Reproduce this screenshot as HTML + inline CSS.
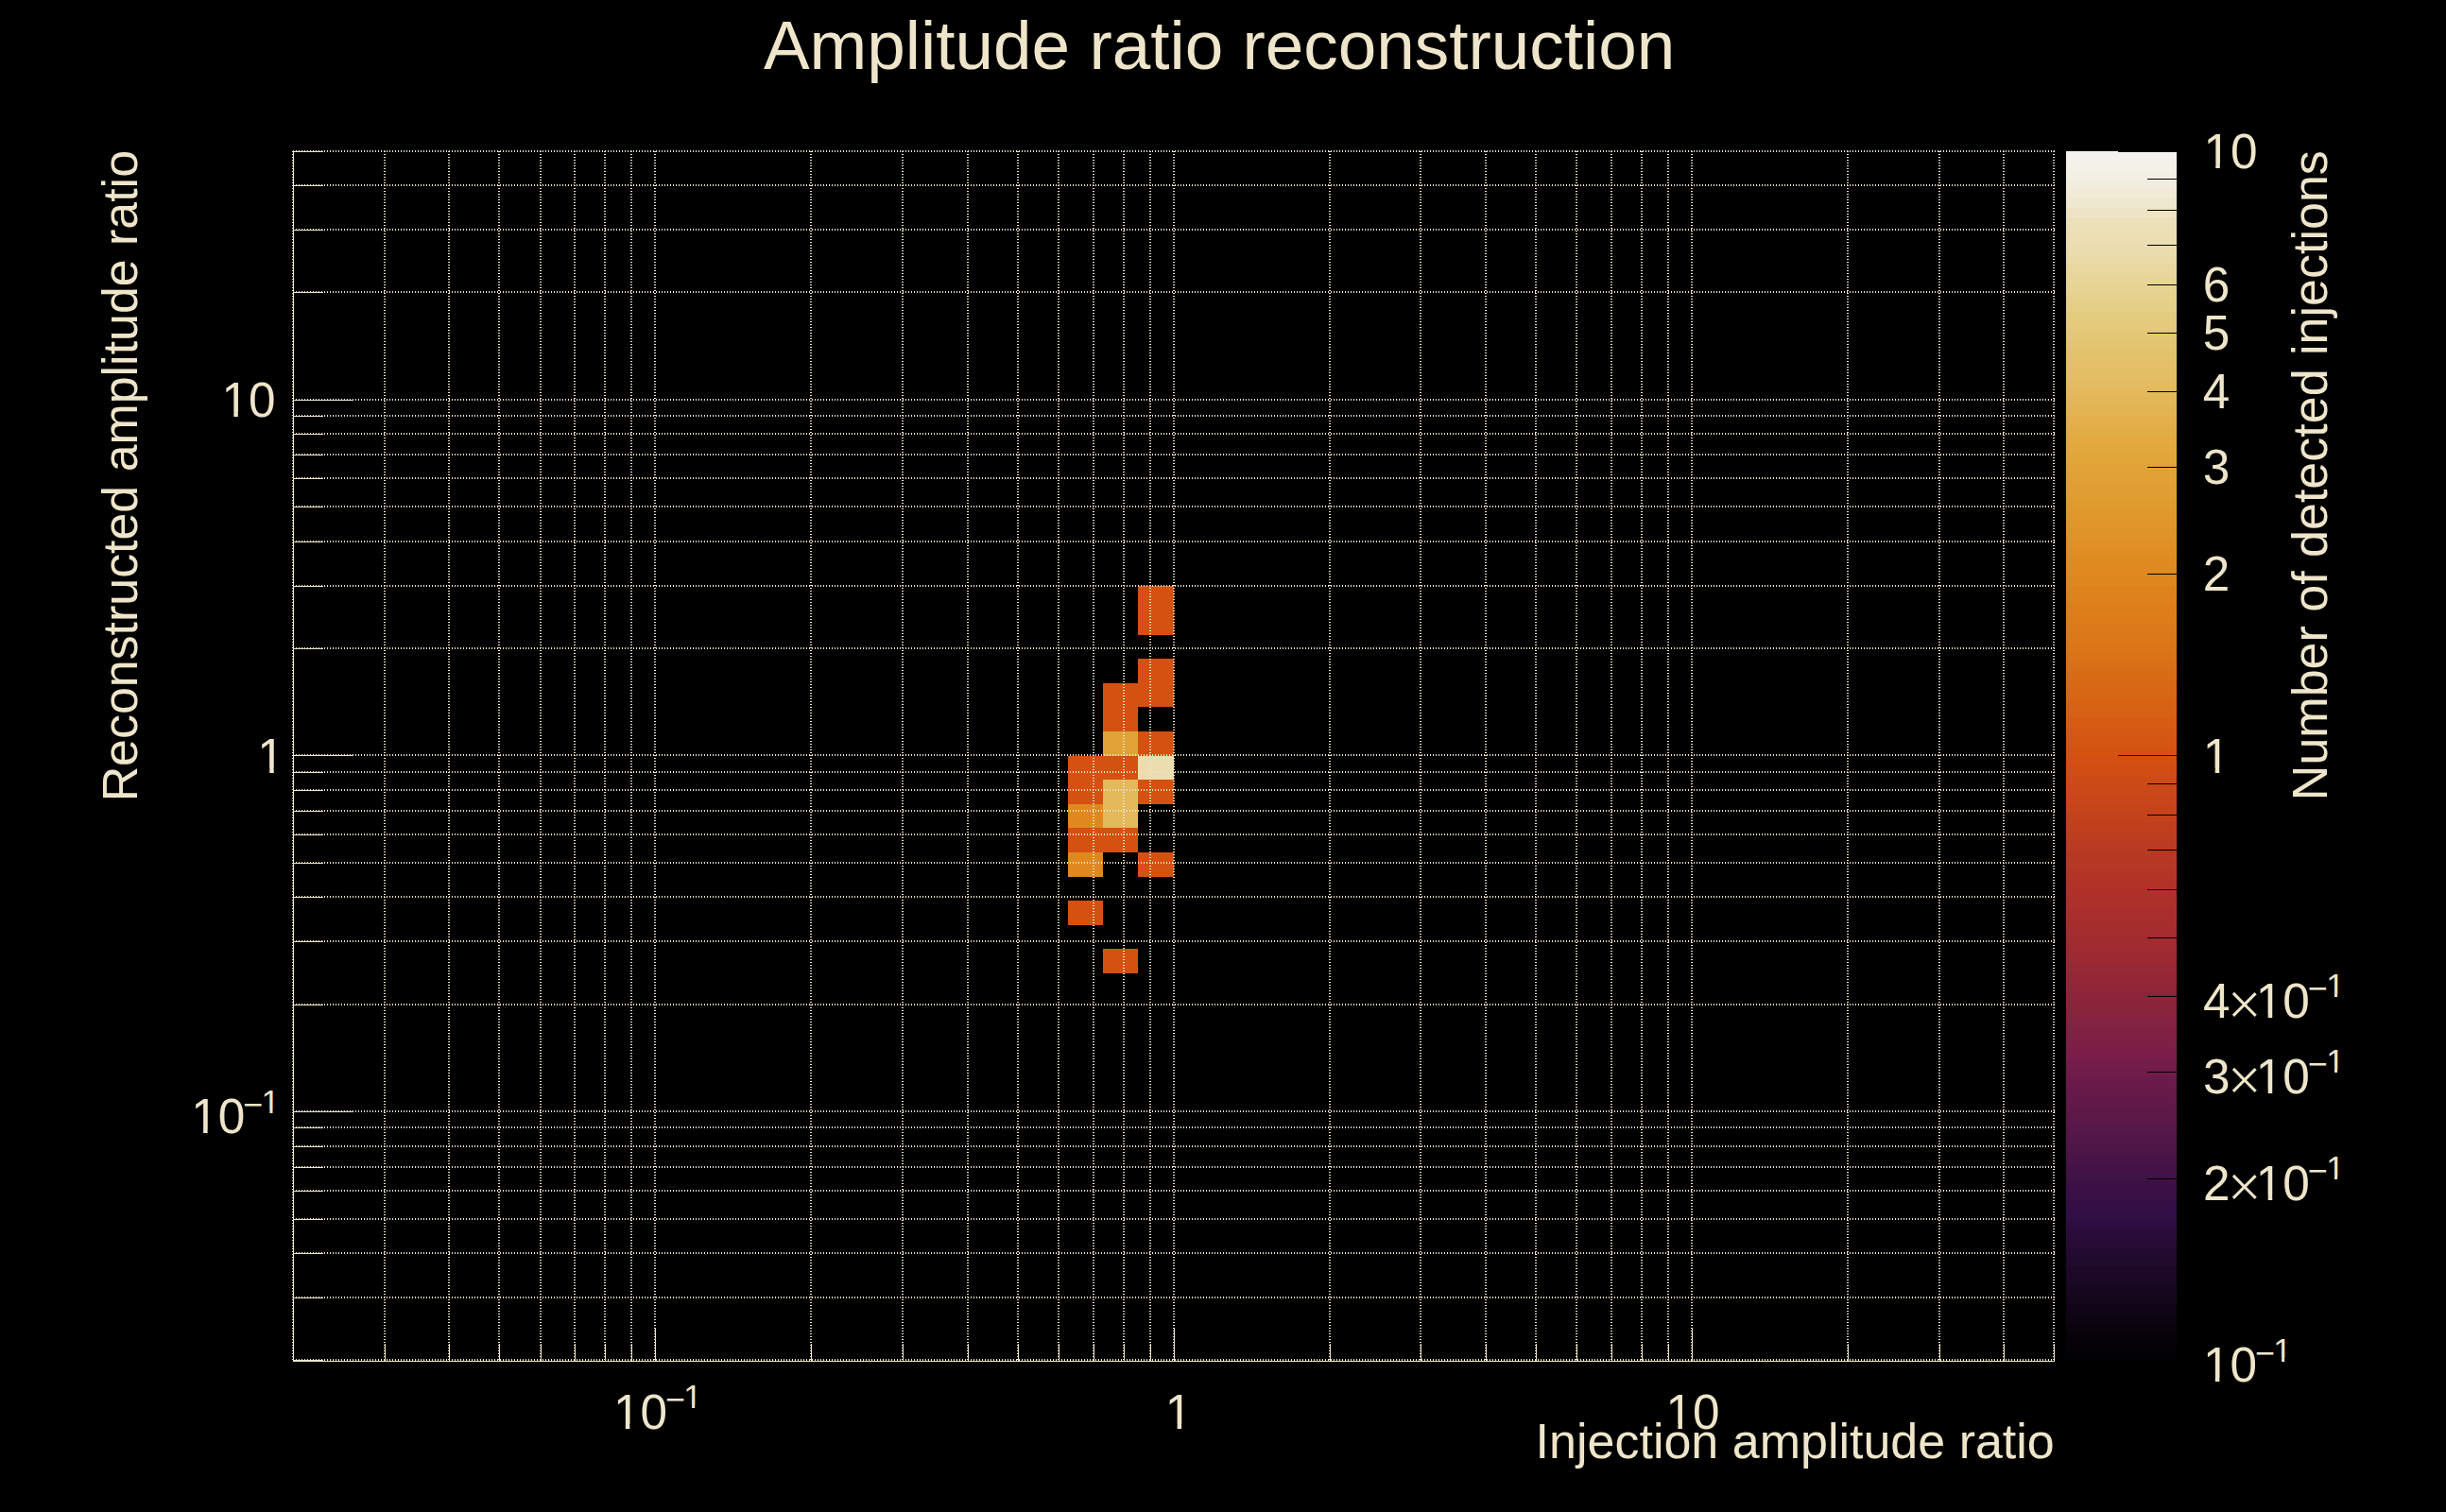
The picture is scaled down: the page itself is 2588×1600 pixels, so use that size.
<!DOCTYPE html>
<html lang="en"><head><meta charset="utf-8"><title>Amplitude ratio reconstruction</title>
<style>html,body{margin:0;padding:0;background:#000;}body{width:2588px;height:1600px;overflow:hidden;}svg{display:block;}text{font-family:'Liberation Sans', sans-serif;fill:#eee5ca;}</style>
</head><body>
<svg width="2588" height="1600" viewBox="0 0 2588 1600">
<rect x="0" y="0" width="2588" height="1600" fill="#000"/>
<g shape-rendering="crispEdges">
<rect x="1204" y="620" width="38" height="26" fill="#d45111"/>
<rect x="1204" y="646" width="38" height="26" fill="#d45111"/>
<rect x="1204" y="697" width="38" height="26" fill="#d45111"/>
<rect x="1204" y="723" width="38" height="25" fill="#d45111"/>
<rect x="1204" y="774" width="38" height="26" fill="#d45111"/>
<rect x="1204" y="800" width="38" height="25" fill="#ebddb0"/>
<rect x="1204" y="825" width="38" height="26" fill="#d45111"/>
<rect x="1204" y="902" width="38" height="26" fill="#d45111"/>
<rect x="1167" y="723" width="37" height="25" fill="#d45111"/>
<rect x="1167" y="748" width="37" height="26" fill="#d45111"/>
<rect x="1167" y="774" width="37" height="26" fill="#e1a338"/>
<rect x="1167" y="800" width="37" height="25" fill="#d45111"/>
<rect x="1167" y="825" width="37" height="26" fill="#e3b95c"/>
<rect x="1167" y="851" width="37" height="25" fill="#e3b95c"/>
<rect x="1167" y="876" width="37" height="26" fill="#d45111"/>
<rect x="1167" y="1004" width="37" height="26" fill="#d45111"/>
<rect x="1130" y="800" width="37" height="25" fill="#d45111"/>
<rect x="1130" y="825" width="37" height="26" fill="#d45111"/>
<rect x="1130" y="851" width="37" height="25" fill="#df881f"/>
<rect x="1130" y="876" width="37" height="26" fill="#d45111"/>
<rect x="1130" y="902" width="37" height="26" fill="#df881f"/>
<rect x="1130" y="953" width="37" height="26" fill="#d45111"/>
</g>
<g shape-rendering="crispEdges">
<rect x="2186" y="160" width="117" height="10" fill="#f4f2ef"/>
<rect x="2186" y="170" width="117" height="10" fill="#f3f1ea"/>
<rect x="2186" y="180" width="117" height="10" fill="#f2efe4"/>
<rect x="2186" y="190" width="117" height="10" fill="#f1eddf"/>
<rect x="2186" y="200" width="117" height="10" fill="#f0ead7"/>
<rect x="2186" y="210" width="117" height="10" fill="#efe8d0"/>
<rect x="2186" y="220" width="117" height="10" fill="#eee4c5"/>
<rect x="2186" y="230" width="117" height="10" fill="#ece0b9"/>
<rect x="2186" y="240" width="117" height="10" fill="#ecdfb5"/>
<rect x="2186" y="250" width="117" height="10" fill="#ebdeb2"/>
<rect x="2186" y="260" width="117" height="10" fill="#eadcad"/>
<rect x="2186" y="270" width="117" height="10" fill="#eadaa6"/>
<rect x="2186" y="280" width="117" height="10" fill="#e8d89f"/>
<rect x="2186" y="290" width="117" height="10" fill="#e8d698"/>
<rect x="2186" y="300" width="117" height="10" fill="#e7d492"/>
<rect x="2186" y="310" width="117" height="10" fill="#e6d18c"/>
<rect x="2186" y="320" width="117" height="10" fill="#e5cf85"/>
<rect x="2186" y="330" width="117" height="10" fill="#e4cc7f"/>
<rect x="2186" y="340" width="117" height="10" fill="#e4ca7a"/>
<rect x="2186" y="350" width="117" height="10" fill="#e4c775"/>
<rect x="2186" y="360" width="117" height="10" fill="#e3c571"/>
<rect x="2186" y="370" width="117" height="10" fill="#e3c26c"/>
<rect x="2186" y="380" width="117" height="10" fill="#e3c068"/>
<rect x="2186" y="390" width="117" height="10" fill="#e3be64"/>
<rect x="2186" y="400" width="117" height="10" fill="#e3bb60"/>
<rect x="2186" y="410" width="117" height="10" fill="#e3b95c"/>
<rect x="2186" y="420" width="117" height="10" fill="#e3b658"/>
<rect x="2186" y="430" width="117" height="10" fill="#e3b452"/>
<rect x="2186" y="440" width="117" height="10" fill="#e3b04c"/>
<rect x="2186" y="450" width="117" height="10" fill="#e2ad46"/>
<rect x="2186" y="460" width="117" height="10" fill="#e2aa40"/>
<rect x="2186" y="470" width="117" height="10" fill="#e2a83e"/>
<rect x="2186" y="480" width="117" height="10" fill="#e1a53a"/>
<rect x="2186" y="490" width="117" height="10" fill="#e1a338"/>
<rect x="2186" y="500" width="117" height="10" fill="#e1a135"/>
<rect x="2186" y="510" width="117" height="10" fill="#e19f33"/>
<rect x="2186" y="520" width="117" height="10" fill="#e09d31"/>
<rect x="2186" y="530" width="117" height="10" fill="#e09b2f"/>
<rect x="2186" y="540" width="117" height="10" fill="#e0982d"/>
<rect x="2186" y="550" width="117" height="10" fill="#e0962a"/>
<rect x="2186" y="560" width="117" height="10" fill="#e09328"/>
<rect x="2186" y="570" width="117" height="10" fill="#e09026"/>
<rect x="2186" y="580" width="117" height="10" fill="#df8e23"/>
<rect x="2186" y="590" width="117" height="10" fill="#df8b21"/>
<rect x="2186" y="600" width="117" height="10" fill="#df891f"/>
<rect x="2186" y="610" width="117" height="10" fill="#df861e"/>
<rect x="2186" y="620" width="117" height="10" fill="#de831c"/>
<rect x="2186" y="630" width="117" height="10" fill="#de801b"/>
<rect x="2186" y="640" width="117" height="10" fill="#de7e1a"/>
<rect x="2186" y="650" width="117" height="10" fill="#dd7c19"/>
<rect x="2186" y="660" width="117" height="10" fill="#dc7a19"/>
<rect x="2186" y="670" width="117" height="10" fill="#db7818"/>
<rect x="2186" y="680" width="117" height="10" fill="#db7518"/>
<rect x="2186" y="690" width="117" height="10" fill="#da7217"/>
<rect x="2186" y="700" width="117" height="10" fill="#d96f17"/>
<rect x="2186" y="710" width="117" height="10" fill="#d86c16"/>
<rect x="2186" y="720" width="117" height="10" fill="#d86816"/>
<rect x="2186" y="730" width="117" height="10" fill="#d76615"/>
<rect x="2186" y="740" width="117" height="10" fill="#d76214"/>
<rect x="2186" y="750" width="117" height="10" fill="#d66013"/>
<rect x="2186" y="760" width="117" height="10" fill="#d65c13"/>
<rect x="2186" y="770" width="117" height="10" fill="#d55912"/>
<rect x="2186" y="780" width="117" height="10" fill="#d55612"/>
<rect x="2186" y="790" width="117" height="10" fill="#d45311"/>
<rect x="2186" y="800" width="117" height="10" fill="#d35012"/>
<rect x="2186" y="810" width="117" height="10" fill="#d04e14"/>
<rect x="2186" y="820" width="117" height="10" fill="#cd4b16"/>
<rect x="2186" y="830" width="117" height="10" fill="#cb4918"/>
<rect x="2186" y="840" width="117" height="10" fill="#c84619"/>
<rect x="2186" y="850" width="117" height="10" fill="#c5441a"/>
<rect x="2186" y="860" width="117" height="10" fill="#c3421c"/>
<rect x="2186" y="870" width="117" height="10" fill="#c0401e"/>
<rect x="2186" y="880" width="117" height="10" fill="#bd3d1f"/>
<rect x="2186" y="890" width="117" height="10" fill="#ba3b21"/>
<rect x="2186" y="900" width="117" height="10" fill="#b83923"/>
<rect x="2186" y="910" width="117" height="10" fill="#b63724"/>
<rect x="2186" y="920" width="117" height="10" fill="#b33526"/>
<rect x="2186" y="930" width="117" height="10" fill="#b13327"/>
<rect x="2186" y="940" width="117" height="10" fill="#af3129"/>
<rect x="2186" y="950" width="117" height="10" fill="#ad302a"/>
<rect x="2186" y="960" width="117" height="10" fill="#aa2f2c"/>
<rect x="2186" y="970" width="117" height="10" fill="#a82e2d"/>
<rect x="2186" y="980" width="117" height="10" fill="#a52c2f"/>
<rect x="2186" y="990" width="117" height="10" fill="#a22b30"/>
<rect x="2186" y="1000" width="117" height="10" fill="#9f2a32"/>
<rect x="2186" y="1010" width="117" height="10" fill="#9c2933"/>
<rect x="2186" y="1020" width="117" height="10" fill="#982835"/>
<rect x="2186" y="1030" width="117" height="10" fill="#952637"/>
<rect x="2186" y="1040" width="117" height="10" fill="#912639"/>
<rect x="2186" y="1050" width="117" height="10" fill="#8e243b"/>
<rect x="2186" y="1060" width="117" height="10" fill="#8a243d"/>
<rect x="2186" y="1070" width="117" height="10" fill="#87223f"/>
<rect x="2186" y="1080" width="117" height="10" fill="#832242"/>
<rect x="2186" y="1090" width="117" height="10" fill="#802044"/>
<rect x="2186" y="1100" width="117" height="10" fill="#7c2046"/>
<rect x="2186" y="1110" width="117" height="10" fill="#7a1e49"/>
<rect x="2186" y="1120" width="117" height="10" fill="#751d4a"/>
<rect x="2186" y="1130" width="117" height="10" fill="#701c4a"/>
<rect x="2186" y="1140" width="117" height="10" fill="#6b1b4a"/>
<rect x="2186" y="1150" width="117" height="10" fill="#661a4a"/>
<rect x="2186" y="1160" width="117" height="10" fill="#63194a"/>
<rect x="2186" y="1170" width="117" height="10" fill="#5f1949"/>
<rect x="2186" y="1180" width="117" height="10" fill="#5c1849"/>
<rect x="2186" y="1190" width="117" height="10" fill="#581749"/>
<rect x="2186" y="1200" width="117" height="10" fill="#521648"/>
<rect x="2186" y="1210" width="117" height="10" fill="#4e1547"/>
<rect x="2186" y="1220" width="117" height="10" fill="#481446"/>
<rect x="2186" y="1230" width="117" height="10" fill="#441246"/>
<rect x="2186" y="1240" width="117" height="10" fill="#401245"/>
<rect x="2186" y="1250" width="117" height="10" fill="#3c1045"/>
<rect x="2186" y="1260" width="117" height="10" fill="#381044"/>
<rect x="2186" y="1270" width="117" height="10" fill="#340e45"/>
<rect x="2186" y="1280" width="117" height="10" fill="#320e46"/>
<rect x="2186" y="1290" width="117" height="10" fill="#2e0d43"/>
<rect x="2186" y="1300" width="117" height="10" fill="#290c3c"/>
<rect x="2186" y="1310" width="117" height="10" fill="#260c36"/>
<rect x="2186" y="1320" width="117" height="10" fill="#230a31"/>
<rect x="2186" y="1330" width="117" height="10" fill="#200a2d"/>
<rect x="2186" y="1340" width="117" height="10" fill="#1d0828"/>
<rect x="2186" y="1350" width="117" height="10" fill="#1a0824"/>
<rect x="2186" y="1360" width="117" height="10" fill="#17061f"/>
<rect x="2186" y="1370" width="117" height="10" fill="#14061b"/>
<rect x="2186" y="1380" width="117" height="10" fill="#110416"/>
<rect x="2186" y="1390" width="117" height="10" fill="#0d0412"/>
<rect x="2186" y="1400" width="117" height="10" fill="#0a030e"/>
<rect x="2186" y="1410" width="117" height="10" fill="#070209"/>
<rect x="2186" y="1420" width="117" height="10" fill="#040205"/>
<rect x="2186" y="1430" width="117" height="10" fill="#010002"/>
</g>
<g stroke="#eee5ca" stroke-width="2" stroke-dasharray="1 2" shape-rendering="crispEdges" fill="none">
<line x1="310" y1="160" x2="310" y2="1440"/>
<line x1="310" y1="1439" x2="2174" y2="1439"/>
<line x1="407" y1="160" x2="407" y2="1440"/>
<line x1="310" y1="1373" x2="2174" y2="1373"/>
<line x1="475" y1="160" x2="475" y2="1440"/>
<line x1="310" y1="1326" x2="2174" y2="1326"/>
<line x1="528" y1="160" x2="528" y2="1440"/>
<line x1="310" y1="1290" x2="2174" y2="1290"/>
<line x1="572" y1="160" x2="572" y2="1440"/>
<line x1="310" y1="1260" x2="2174" y2="1260"/>
<line x1="608" y1="160" x2="608" y2="1440"/>
<line x1="310" y1="1235" x2="2174" y2="1235"/>
<line x1="640" y1="160" x2="640" y2="1440"/>
<line x1="310" y1="1213" x2="2174" y2="1213"/>
<line x1="668" y1="160" x2="668" y2="1440"/>
<line x1="310" y1="1193" x2="2174" y2="1193"/>
<line x1="693" y1="160" x2="693" y2="1440"/>
<line x1="310" y1="1176" x2="2174" y2="1176"/>
<line x1="858" y1="160" x2="858" y2="1440"/>
<line x1="310" y1="1063" x2="2174" y2="1063"/>
<line x1="955" y1="160" x2="955" y2="1440"/>
<line x1="310" y1="996" x2="2174" y2="996"/>
<line x1="1024" y1="160" x2="1024" y2="1440"/>
<line x1="310" y1="949" x2="2174" y2="949"/>
<line x1="1077" y1="160" x2="1077" y2="1440"/>
<line x1="310" y1="913" x2="2174" y2="913"/>
<line x1="1120" y1="160" x2="1120" y2="1440"/>
<line x1="310" y1="883" x2="2174" y2="883"/>
<line x1="1157" y1="160" x2="1157" y2="1440"/>
<line x1="310" y1="858" x2="2174" y2="858"/>
<line x1="1189" y1="160" x2="1189" y2="1440"/>
<line x1="310" y1="836" x2="2174" y2="836"/>
<line x1="1217" y1="160" x2="1217" y2="1440"/>
<line x1="310" y1="817" x2="2174" y2="817"/>
<line x1="1242" y1="160" x2="1242" y2="1440"/>
<line x1="310" y1="799" x2="2174" y2="799"/>
<line x1="1407" y1="160" x2="1407" y2="1440"/>
<line x1="310" y1="686" x2="2174" y2="686"/>
<line x1="1503" y1="160" x2="1503" y2="1440"/>
<line x1="310" y1="620" x2="2174" y2="620"/>
<line x1="1572" y1="160" x2="1572" y2="1440"/>
<line x1="310" y1="573" x2="2174" y2="573"/>
<line x1="1625" y1="160" x2="1625" y2="1440"/>
<line x1="310" y1="536" x2="2174" y2="536"/>
<line x1="1668" y1="160" x2="1668" y2="1440"/>
<line x1="310" y1="506" x2="2174" y2="506"/>
<line x1="1705" y1="160" x2="1705" y2="1440"/>
<line x1="310" y1="481" x2="2174" y2="481"/>
<line x1="1737" y1="160" x2="1737" y2="1440"/>
<line x1="310" y1="459" x2="2174" y2="459"/>
<line x1="1765" y1="160" x2="1765" y2="1440"/>
<line x1="310" y1="440" x2="2174" y2="440"/>
<line x1="1790" y1="160" x2="1790" y2="1440"/>
<line x1="310" y1="423" x2="2174" y2="423"/>
<line x1="1955" y1="160" x2="1955" y2="1440"/>
<line x1="310" y1="309" x2="2174" y2="309"/>
<line x1="2052" y1="160" x2="2052" y2="1440"/>
<line x1="310" y1="243" x2="2174" y2="243"/>
<line x1="2120" y1="160" x2="2120" y2="1440"/>
<line x1="310" y1="196" x2="2174" y2="196"/>
<line x1="2173" y1="160" x2="2173" y2="1440"/>
<line x1="310" y1="160" x2="2174" y2="160"/>
</g>
<g stroke="#eee5ca" stroke-width="1" shape-rendering="crispEdges" fill="none">
<line x1="310" y1="1440" x2="2174" y2="1440"/>
<line x1="310.5" y1="160" x2="310.5" y2="1441"/>
<line x1="310.5" y1="1422" x2="310.5" y2="1441"/>
<line x1="310" y1="1439.5" x2="342" y2="1439.5"/>
<line x1="407.5" y1="1422" x2="407.5" y2="1441"/>
<line x1="310" y1="1373.5" x2="342" y2="1373.5"/>
<line x1="475.5" y1="1422" x2="475.5" y2="1441"/>
<line x1="310" y1="1326.5" x2="342" y2="1326.5"/>
<line x1="528.5" y1="1422" x2="528.5" y2="1441"/>
<line x1="310" y1="1290.5" x2="342" y2="1290.5"/>
<line x1="572.5" y1="1422" x2="572.5" y2="1441"/>
<line x1="310" y1="1260.5" x2="342" y2="1260.5"/>
<line x1="608.5" y1="1422" x2="608.5" y2="1441"/>
<line x1="310" y1="1235.5" x2="342" y2="1235.5"/>
<line x1="640.5" y1="1422" x2="640.5" y2="1441"/>
<line x1="310" y1="1213.5" x2="342" y2="1213.5"/>
<line x1="668.5" y1="1422" x2="668.5" y2="1441"/>
<line x1="310" y1="1193.5" x2="342" y2="1193.5"/>
<line x1="693.5" y1="1405" x2="693.5" y2="1441"/>
<line x1="310" y1="1176.5" x2="374" y2="1176.5"/>
<line x1="858.5" y1="1422" x2="858.5" y2="1441"/>
<line x1="310" y1="1063.5" x2="342" y2="1063.5"/>
<line x1="955.5" y1="1422" x2="955.5" y2="1441"/>
<line x1="310" y1="996.5" x2="342" y2="996.5"/>
<line x1="1024.5" y1="1422" x2="1024.5" y2="1441"/>
<line x1="310" y1="949.5" x2="342" y2="949.5"/>
<line x1="1077.5" y1="1422" x2="1077.5" y2="1441"/>
<line x1="310" y1="913.5" x2="342" y2="913.5"/>
<line x1="1120.5" y1="1422" x2="1120.5" y2="1441"/>
<line x1="310" y1="883.5" x2="342" y2="883.5"/>
<line x1="1157.5" y1="1422" x2="1157.5" y2="1441"/>
<line x1="310" y1="858.5" x2="342" y2="858.5"/>
<line x1="1189.5" y1="1422" x2="1189.5" y2="1441"/>
<line x1="310" y1="836.5" x2="342" y2="836.5"/>
<line x1="1217.5" y1="1422" x2="1217.5" y2="1441"/>
<line x1="310" y1="817.5" x2="342" y2="817.5"/>
<line x1="1242.5" y1="1405" x2="1242.5" y2="1441"/>
<line x1="310" y1="799.5" x2="374" y2="799.5"/>
<line x1="1407.5" y1="1422" x2="1407.5" y2="1441"/>
<line x1="310" y1="686.5" x2="342" y2="686.5"/>
<line x1="1503.5" y1="1422" x2="1503.5" y2="1441"/>
<line x1="310" y1="620.5" x2="342" y2="620.5"/>
<line x1="1572.5" y1="1422" x2="1572.5" y2="1441"/>
<line x1="310" y1="573.5" x2="342" y2="573.5"/>
<line x1="1625.5" y1="1422" x2="1625.5" y2="1441"/>
<line x1="310" y1="536.5" x2="342" y2="536.5"/>
<line x1="1668.5" y1="1422" x2="1668.5" y2="1441"/>
<line x1="310" y1="506.5" x2="342" y2="506.5"/>
<line x1="1705.5" y1="1422" x2="1705.5" y2="1441"/>
<line x1="310" y1="481.5" x2="342" y2="481.5"/>
<line x1="1737.5" y1="1422" x2="1737.5" y2="1441"/>
<line x1="310" y1="459.5" x2="342" y2="459.5"/>
<line x1="1765.5" y1="1422" x2="1765.5" y2="1441"/>
<line x1="310" y1="440.5" x2="342" y2="440.5"/>
<line x1="1790.5" y1="1405" x2="1790.5" y2="1441"/>
<line x1="310" y1="423.5" x2="374" y2="423.5"/>
<line x1="1955.5" y1="1422" x2="1955.5" y2="1441"/>
<line x1="310" y1="309.5" x2="342" y2="309.5"/>
<line x1="2052.5" y1="1422" x2="2052.5" y2="1441"/>
<line x1="310" y1="243.5" x2="342" y2="243.5"/>
<line x1="2120.5" y1="1422" x2="2120.5" y2="1441"/>
<line x1="310" y1="196.5" x2="342" y2="196.5"/>
<line x1="2173.5" y1="1422" x2="2173.5" y2="1441"/>
<line x1="310" y1="160.5" x2="342" y2="160.5"/>
</g>
<g stroke="#000" stroke-width="1" shape-rendering="crispEdges" fill="none">
<line x1="2241" y1="1439.5" x2="2303" y2="1439.5"/>
<line x1="2272" y1="1247.5" x2="2303" y2="1247.5"/>
<line x1="2272" y1="1134.5" x2="2303" y2="1134.5"/>
<line x1="2272" y1="1054.5" x2="2303" y2="1054.5"/>
<line x1="2272" y1="992.5" x2="2303" y2="992.5"/>
<line x1="2272" y1="941.5" x2="2303" y2="941.5"/>
<line x1="2272" y1="899.5" x2="2303" y2="899.5"/>
<line x1="2272" y1="862.5" x2="2303" y2="862.5"/>
<line x1="2272" y1="829.5" x2="2303" y2="829.5"/>
<line x1="2241" y1="799.5" x2="2303" y2="799.5"/>
<line x1="2272" y1="607.5" x2="2303" y2="607.5"/>
<line x1="2272" y1="494.5" x2="2303" y2="494.5"/>
<line x1="2272" y1="414.5" x2="2303" y2="414.5"/>
<line x1="2272" y1="352.5" x2="2303" y2="352.5"/>
<line x1="2272" y1="301.5" x2="2303" y2="301.5"/>
<line x1="2272" y1="259.5" x2="2303" y2="259.5"/>
<line x1="2272" y1="222.5" x2="2303" y2="222.5"/>
<line x1="2272" y1="189.5" x2="2303" y2="189.5"/>
<line x1="2241" y1="160.5" x2="2303" y2="160.5"/>
</g>
<defs><clipPath id="nofoot"><path clip-rule="evenodd" d="M0 0H2588 V1600 H0Z M651.31 1507.00 H661.80 V1513.20 H651.31Z M666.33 1507.00 H676.42 V1513.20 H666.33Z M724.47 1487.00 H732.10 V1491.60 H724.47Z M735.19 1487.00 H742.56 V1491.60 H735.19Z M1235.11 1507.00 H1245.60 V1513.20 H1235.11Z M1250.13 1507.00 H1260.22 V1513.20 H1250.13Z M1764.91 1507.00 H1775.40 V1513.20 H1764.91Z M1779.93 1507.00 H1790.02 V1513.20 H1779.93Z M236.81 436.00 H247.30 V442.30 H236.81Z M251.83 436.00 H261.92 V442.30 H251.83Z M274.71 813.00 H285.20 V819.00 H274.71Z M289.73 813.00 H299.82 V819.00 H289.73Z M204.61 1195.00 H215.10 V1200.80 H204.61Z M219.63 1195.00 H229.72 V1200.80 H219.63Z M277.77 1175.00 H285.40 V1179.20 H277.77Z M288.49 1175.00 H295.86 V1179.20 H288.49Z M2333.81 173.00 H2344.30 V179.00 H2333.81Z M2348.83 173.00 H2358.92 V179.00 H2348.83Z M2333.21 813.00 H2343.70 V819.00 H2333.21Z M2348.23 813.00 H2358.32 V819.00 H2348.23Z M2389.21 1073.00 H2399.70 V1078.38 H2389.21Z M2404.23 1073.00 H2414.32 V1078.38 H2404.23Z M2462.37 1052.00 H2470.00 V1056.78 H2462.37Z M2473.09 1052.00 H2480.46 V1056.78 H2473.09Z M2389.21 1153.00 H2399.70 V1158.34 H2389.21Z M2404.23 1153.00 H2414.32 V1158.34 H2404.23Z M2462.37 1132.00 H2470.00 V1136.74 H2462.37Z M2473.09 1132.00 H2480.46 V1136.74 H2473.09Z M2389.21 1265.00 H2399.70 V1271.04 H2389.21Z M2404.23 1265.00 H2414.32 V1271.04 H2404.23Z M2462.37 1245.00 H2470.00 V1249.44 H2462.37Z M2473.09 1245.00 H2480.46 V1249.44 H2473.09Z M2333.31 1458.00 H2343.80 V1463.70 H2333.31Z M2348.33 1458.00 H2358.42 V1463.70 H2348.33Z M2406.47 1437.00 H2414.10 V1442.10 H2406.47Z M2417.19 1437.00 H2424.56 V1442.10 H2417.19Z"/></clipPath></defs>
<text x="808" y="73.2" font-size="72.9">Amplitude ratio reconstruction</text>
<text x="2173.8" y="1543" font-size="52" text-anchor="end">Injection amplitude ratio</text>
<text transform="translate(145.3,159) rotate(-90)" font-size="51.9" text-anchor="end">Reconstructed amplitude ratio</text>
<text transform="translate(2462,159.2) rotate(-90)" font-size="52" text-anchor="end">Number of detected injections</text>
<g clip-path="url(#nofoot)">
<text><tspan x="648.90" y="1511.70" font-size="51.30">10</tspan><tspan x="703.88" y="1493.20" font-size="36.00">−</tspan><tspan x="723.30" y="1490.10" font-size="35.00">1</tspan></text>
<text><tspan x="1232.70" y="1511.70" font-size="51.30">1</tspan></text>
<text><tspan x="1762.50" y="1511.70" font-size="51.30">10</tspan></text>
<text><tspan x="234.40" y="440.80" font-size="51.30">10</tspan></text>
<text><tspan x="272.30" y="817.50" font-size="51.30">1</tspan></text>
<text><tspan x="202.20" y="1199.30" font-size="51.30">10</tspan><tspan x="257.18" y="1180.80" font-size="36.00">−</tspan><tspan x="276.60" y="1177.70" font-size="35.00">1</tspan></text>
<text><tspan x="2331.40" y="177.50" font-size="51.30">10</tspan></text>
<text><tspan x="2330.80" y="319.48" font-size="51.30">6</tspan></text>
<text><tspan x="2330.80" y="370.16" font-size="51.30">5</tspan></text>
<text><tspan x="2330.80" y="432.18" font-size="51.30">4</tspan></text>
<text><tspan x="2330.80" y="512.14" font-size="51.30">3</tspan></text>
<text><tspan x="2330.80" y="624.84" font-size="51.30">2</tspan></text>
<text><tspan x="2330.80" y="817.50" font-size="51.30">1</tspan></text>
<text><tspan x="2330.90" y="1076.88" font-size="51.30">4</tspan><tspan x="2356.50" y="1083.88" font-size="62.50" stroke="#000" stroke-width="1.4">×</tspan><tspan x="2386.80" y="1076.88" font-size="51.30">10</tspan><tspan x="2441.78" y="1058.38" font-size="36.00">−</tspan><tspan x="2461.20" y="1055.28" font-size="35.00">1</tspan></text>
<text><tspan x="2330.90" y="1156.84" font-size="51.30">3</tspan><tspan x="2356.50" y="1163.84" font-size="62.50" stroke="#000" stroke-width="1.4">×</tspan><tspan x="2386.80" y="1156.84" font-size="51.30">10</tspan><tspan x="2441.78" y="1138.34" font-size="36.00">−</tspan><tspan x="2461.20" y="1135.24" font-size="35.00">1</tspan></text>
<text><tspan x="2330.90" y="1269.54" font-size="51.30">2</tspan><tspan x="2356.50" y="1276.54" font-size="62.50" stroke="#000" stroke-width="1.4">×</tspan><tspan x="2386.80" y="1269.54" font-size="51.30">10</tspan><tspan x="2441.78" y="1251.04" font-size="36.00">−</tspan><tspan x="2461.20" y="1247.94" font-size="35.00">1</tspan></text>
<text><tspan x="2330.90" y="1462.20" font-size="51.30">10</tspan><tspan x="2385.88" y="1443.70" font-size="36.00">−</tspan><tspan x="2405.30" y="1440.60" font-size="35.00">1</tspan></text>
</g>
</svg></body></html>
